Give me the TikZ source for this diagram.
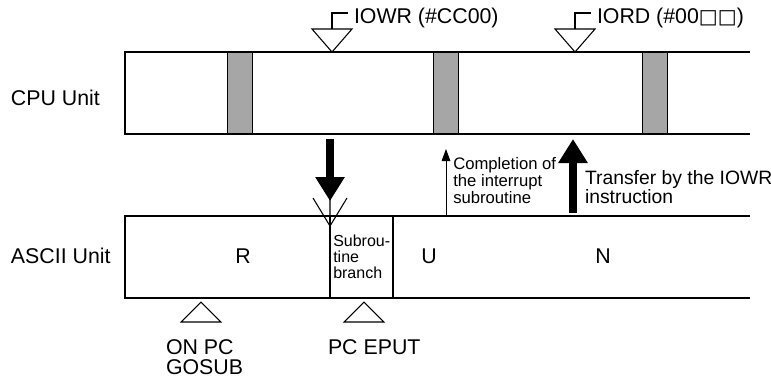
\documentclass[tikz,border=0pt]{standalone}
\usepackage{fontspec}
\setmainfont{Liberation Sans}
\newfontfamily\boxfont{DejaVu Sans}
\usepackage{xcolor}
\usepackage{tikz}
\usetikzlibrary{arrows.meta}
\definecolor{barc}{RGB}{166,166,166}

\begin{document}
\begin{tikzpicture}[x=0.75pt, y=-0.75pt, font=\fontsize{16}{15}\selectfont,
  unitline/.style={black, line width=1.4pt},
  barbox/.style={fill=barc, draw=black, line width=0.7pt},
  marker/.style={draw=black, line width=0.8pt, line join=miter},
  lbl/.style={inner sep=0pt, outer sep=0pt},
  note/.style={inner sep=0pt, align=left, font=\fontsize{12.5}{11.6}\selectfont},
  bigarrow/.style={line width=5.6pt, -{Triangle[width=21pt,length=18pt]}},
  thinarrow/.style={line width=0.6pt, -{Triangle[width=6.5pt,length=9pt]}}]

\useasboundingbox (0,0) rectangle (771,380);

%% ── CPU unit lane: execution bars, then the open frame ──────────
\foreach \x in {227,433,642}{
  \draw[barbox] (\x,52) rectangle ++(25,82);
}
\draw[unitline] (750,52) -- (125,52) -- (125,134) -- (750,134);
\node[lbl, anchor=base west] (cpu) at (11,105) {CPU Unit};

%% ── ASCII unit lane ──────────────────────────────────────────────
\draw[unitline] (750,216) -- (125,216) -- (125,298) -- (750,298);
\draw[line width=0.8pt] (330,216) -- (330,298);
\draw[line width=0.8pt] (393,216) -- (393,298);
\node[lbl, anchor=base west] (ascii) at (11,263) {ASCII Unit};
\node[note, anchor=north west, font=\fontsize{12}{12}\selectfont] (subr) at (333,235)
  {Subrou-\\tine\\branch};
\foreach \x/\lab in {243/R,429/U,603/N}{
  \node[lbl, anchor=base] (st\lab) at (\x,263) {\lab};
}

%% ── instruction markers on the CPU lane ──────────────────────────
\foreach \x/\nm/\lab in {332/iowr/{IOWR (\#CC00)},575/iord/{IORD (\#00{\boxfont\fontsize{15}{15}\selectfont □□})}}{
  \draw[marker] (\x,52) -- (\x-20,29) -- (\x+20,29) -- cycle;
  \draw[marker] (\x,29) -- (\x,13) -- (\x+16,13);
  \node[lbl, anchor=base west] (\nm) at (\x+22,23) {\lab};
}

%% ── markers under the ASCII lane ─────────────────────────────────
\draw[marker] (330,198) -- (330,226) -- (313,198);
\draw[marker] (330,226) -- (347,198);
\foreach \x in {201,364}{
  \draw[marker] (\x,302) -- (\x-20,322) -- (\x+20,322) -- cycle;
}
\node[lbl, anchor=north west, align=left] (onpc) at (166,340) {ON PC\\GOSUB};
\node[lbl, anchor=base west] (eput) at (328,354) {PC EPUT};

%% ── transfers between the units ──────────────────────────────────
\coordinate (dnTop) at (330,139);
\coordinate (dnTip) at (330,201);
\draw[bigarrow] (dnTop) -- (dnTip);

\coordinate (cmpFoot) at (446,216);
\coordinate (cmpTip) at (446,149);
\draw[thinarrow] (cmpFoot) -- (cmpTip);
\node[note, anchor=north west] (cmp) at (453,157)
  {Completion of\\the interrupt\\subroutine};

\coordinate (upFoot) at (573,213);
\coordinate (upTip) at (573,139);
\draw[bigarrow] (upFoot) -- (upTip);
\node[lbl, anchor=north west, align=left, font=\fontsize{14.5}{13.5}\selectfont] (xfer) at (585,170)
  {Transfer by the IOWR\\instruction};

\end{tikzpicture}
\end{document}
